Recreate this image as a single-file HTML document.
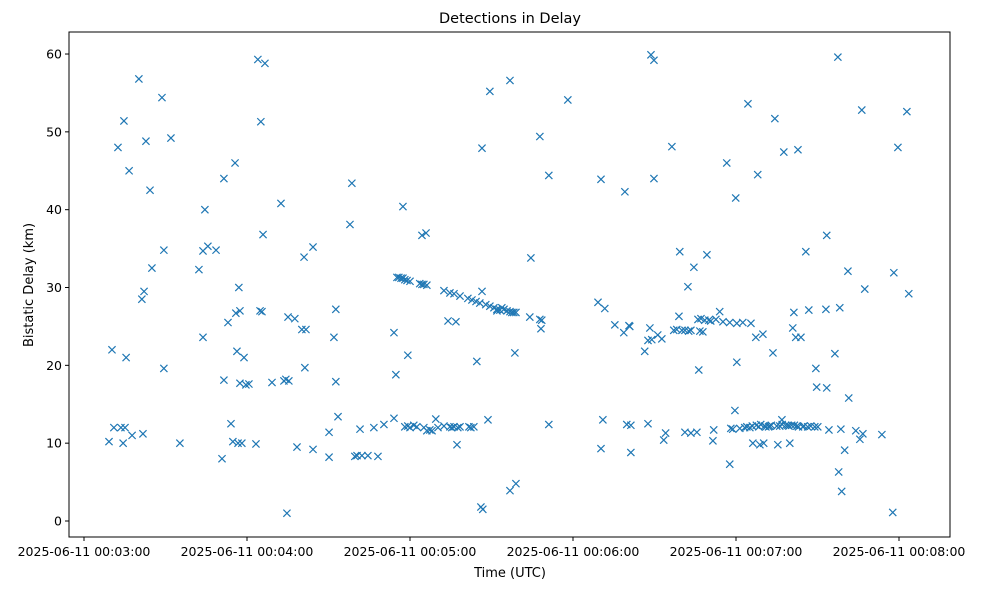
<!DOCTYPE html>
<html><head><meta charset="utf-8"><title>Detections in Delay</title>
<style>
html,body{margin:0;padding:0;background:#fff;}
svg{display:block;font-family:"DejaVu Sans","Liberation Sans",sans-serif;}
</style></head>
<body>
<svg id="chart" width="982" height="590" viewBox="0 0 982 590" xmlns="http://www.w3.org/2000/svg">
<rect x="0" y="0" width="982" height="590" fill="#fff"/>
<text x="510" y="23" font-size="14.5" text-anchor="middle" fill="#000">Detections in Delay</text>
<g id="marks"></g>
<rect x="69" y="32" width="881" height="505" fill="none" stroke="#000" stroke-width="1"/>
<g id="yaxis"></g>
<g id="xaxis"></g>
<text x="510" y="577" font-size="13" text-anchor="middle" fill="#000">Time (UTC)</text>
<text transform="translate(33,285) rotate(-90)" font-size="13" text-anchor="middle" fill="#000">Bistatic Delay (km)</text>
</svg>
<script>
// seconds after 2025-06-11 00:03:00
const times = [9.2,10.3,11,12.5,13.6,14.4,14.7,15.1,15.5,16.6,17.7,20.2,21.3,22.1,21.7,22.8,24.3,25,28.7,29.4,29.4,32,35.3,
42.3,43.8,43.8,44.5,45.6,48.6,50.8,51.5,51.5,53,54.1,54.8,55.6,55.9,56.3,56.7,57,57.4,57.4,58.1,58.9,59.6,60.7,63.3,64,64.8,65.1,65.5,65.9,66.6,69.2,72.5,73.6,74.3,74.7,75.1,75.4,77.6,78.4,80.2,81,81.3,81.7,84.3,84.3,90.2,90.2,92,92.7,92.7,93.5,97.9,98.6,99.7,100.5,101.6,102.3,104.5,106.7,108.2,110.4,114.1,114.1,114.8,
115.2,115.9,116.7,117.4,118.1,118.9,120,123.6,124.4,125.1,126.2,132.5,134.7,136.2,138.4,141.3,142.8,144.3,145.7,146.5,147.9,149.4,150.9,152,153.1,153.8,154.6,155.7,156.8,157.5,158.2,159,164.1,167.8,168.5,168.2,
117.4,118.1,119.2,119.2,120,121.4,122.5,124.4,125.1,125.9,126.2,127.3,128.1,129.5,130.3,132.5,134,134.7,135.4,136.2,136.9,137.3,137.6,138.4,141.7,142.4,143.5,144.6,146.5,146.1,146.8,148.7,149.4,152,156.8,156.8,158.6,159,164.5,167.8,171.1,171.1,178.1,
190.3,189.2,190.3,191,191.7,195.4,198.7,199.1,199.8,200.6,200.9,201.3,201.3,206.4,207.6,207.6,208.3,208.7,209.8,209,209.8,211.2,212.7,213.4,214.1,216.4,217.1,218.2,219,219.3,220.1,221.2,221.2,222.3,222.6,223.4,223.4,224.5,225.6,226,226.3,226.7,227.1,227.8,228.5,229.3,230,230.7,231.5,231.8,232.6,234,235.2,236.6,237.7,237.7,238.1,238.8,239.6,239.9,240.3,240.3,241.4,242.5,243.2,244.4,245.1,245.5,246.2,247.3,248,248.4,248.8,249.1,249.9,250.2,251,252.4,253.6,254.3,255.4,256.1,256.9,257.6,258.3,259.1,259.8,260.5,260.9,261.3,262,262.4,262.8,263.9,264.6,265.7,266.4,266.8,267.5,269,269.4,269.7,270.1,273.1,273.4,273.4,274.2,276.4,277.5,277.8,278.2,278.6,278.9,280,281.2,281.5,284.1,285.6,286.3,286.7,287.4,293.7,297.7,298.1,299.6,302.9,303.6,
244,246,247.5,250.5,252,253,255,257,259.5,261.5,263,265];
const delays = [10.2,22,12,48,12,10,51.4,12,21,45,11,56.8,28.5,29.5,11.2,48.8,42.5,32.5,54.4,19.6,34.8,49.2,10,
32.3,23.6,34.7,40,35.3,34.8,8,18.1,44,25.5,12.5,10.2,46,26.7,21.8,10,30,27,17.7,10,21,17.5,17.6,9.9,59.3,27,51.3,26.9,36.8,58.8,17.8,40.8,18,18.2,1,26.2,18,26,9.5,24.6,33.9,19.7,24.6,35.2,9.2,8.2,11.4,23.6,27.2,17.9,13.4,38.1,43.4,8.3,8.4,11.8,8.4,8.4,12,8.3,12.4,13.2,24.2,18.8,
31.3,31.3,31.2,31.2,31,30.9,30.8,30.5,30.4,30.4,30.3,29.6,29.3,29.2,28.9,28.6,28.4,28.2,28,29.5,27.8,27.6,27.4,27.2,27.1,27.4,27.2,27,26.9,26.8,26.8,26.8,26.2,25.9,25.8,24.7,
40.4,12.1,12.2,21.3,12,12.3,12.1,36.7,12,37,11.6,11.7,11.6,13.1,12,12.2,25.7,12.1,12,12.1,25.6,9.8,12,12.1,12.1,12,12.1,20.5,47.9,1.8,1.5,13,55.2,27,56.6,3.9,21.6,4.8,33.8,49.4,12.4,44.4,54.1,
43.9,28.1,9.3,13,27.3,25.2,24.2,42.3,12.4,25.1,25,8.8,12.3,21.8,12.5,23.2,24.8,59.9,59.2,23.3,44,23.9,23.4,10.4,11.3,48.1,24.5,24.6,26.3,34.6,24.5,11.4,24.5,30.1,24.4,24.5,11.3,32.6,11.4,25.9,19.4,24.4,26,24.3,25.8,34.2,25.8,25.7,10.3,11.7,25.9,26.9,25.6,46,25.5,7.3,11.9,11.8,14.2,41.5,20.4,25.4,11.9,25.5,12,53.6,12,25.4,10,23.6,44.5,12.1,9.8,12.4,24,10,12.1,12.2,21.6,51.7,9.8,12.2,13,47.4,12.3,12.3,10,12.3,24.8,26.8,23.6,12.2,47.7,23.6,12.1,34.6,12.1,27.1,12.2,12.1,19.6,17.2,12.1,27.2,36.7,17.1,11.7,21.5,59.6,6.3,27.4,11.8,3.8,9.1,32.1,15.8,11.6,10.5,52.8,11.2,29.8,11.1,1.1,31.9,48,52.6,29.2,
12.1,12.2,12.3,12.2,12.1,12.3,12.2,12.4,12.2,12.3,12.1,12.2];
const yTicks = [0,10,20,30,40,50,60];
const xTickSecs = [0,60,120,180,240,300];
const xTickLabels = ["2025-06-11 00:03:00","2025-06-11 00:04:00","2025-06-11 00:05:00","2025-06-11 00:06:00","2025-06-11 00:07:00","2025-06-11 00:08:00"];

const NS = "http://www.w3.org/2000/svg";
function xs(s){ return 84 + s * 163 / 60; }
function ys(v){ return 521 - v * 7.783; }

const marks = document.getElementById('marks');
for (let i = 0; i < times.length; i++) {
  const cx = xs(times[i]), cy = ys(delays[i]), r = 3.6;
  const p = document.createElementNS(NS, 'path');
  p.setAttribute('d', `M${cx-r},${cy-r}L${cx+r},${cy+r}M${cx-r},${cy+r}L${cx+r},${cy-r}`);
  p.setAttribute('stroke', '#1f77b4');
  p.setAttribute('stroke-width', '1.2');
  p.setAttribute('fill', 'none');
  
  
  marks.appendChild(p);
}

const ya = document.getElementById('yaxis');
yTicks.forEach(v => {
  const y = ys(v);
  const l = document.createElementNS(NS, 'line');
  l.setAttribute('x1', 65); l.setAttribute('x2', 69);
  l.setAttribute('y1', y); l.setAttribute('y2', y);
  l.setAttribute('stroke', '#000');
  
  
  ya.appendChild(l);
  const t = document.createElementNS(NS, 'text');
  t.setAttribute('x', 62); t.setAttribute('y', y + 4.5);
  t.setAttribute('font-size', '12.5'); t.setAttribute('text-anchor', 'end');
  t.textContent = v;
  
  
  ya.appendChild(t);
});

const xa = document.getElementById('xaxis');
xTickSecs.forEach((s, i) => {
  const x = xs(s);
  const l = document.createElementNS(NS, 'line');
  l.setAttribute('x1', x); l.setAttribute('x2', x);
  l.setAttribute('y1', 537); l.setAttribute('y2', 541);
  l.setAttribute('stroke', '#000');
  
  
  xa.appendChild(l);
  const t = document.createElementNS(NS, 'text');
  t.setAttribute('x', x); t.setAttribute('y', 556);
  t.setAttribute('font-size', '12.5'); t.setAttribute('text-anchor', 'middle');
  t.textContent = xTickLabels[i];
  
  
  xa.appendChild(t);
});
</script>
</body></html>
